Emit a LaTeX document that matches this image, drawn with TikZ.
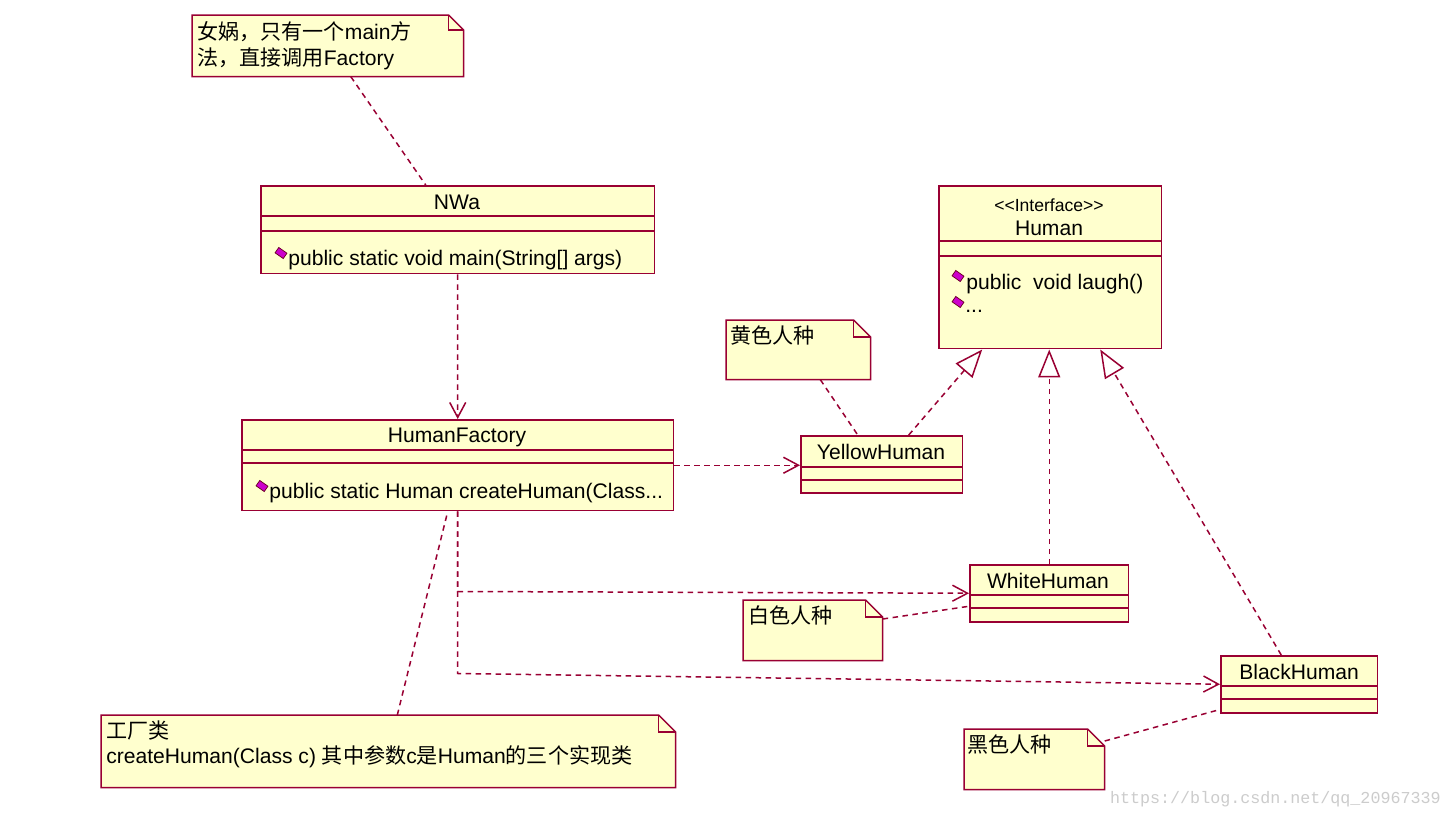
\documentclass[tikz,border=0pt]{standalone}
\usepackage{fontspec}
\setmainfont{Liberation Sans}
\newfontfamily\cjkfont{Noto Sans CJK SC}
\newfontfamily\markfont{Liberation Mono}
\usepackage{xcolor}
\usetikzlibrary{calc}
\usetikzlibrary{arrows.meta}

\definecolor{umlline}{RGB}{153,0,51}
\definecolor{umlfill}{RGB}{255,255,206}
\definecolor{umlicon}{RGB}{204,0,204}

\tikzset{
  classbox/.style={draw=umlline, fill=umlfill, line width=0.03cm, inner sep=0pt, anchor=north west},
  notebox/.style={inner sep=0pt, anchor=north west},
  noteline/.style={draw=umlline, fill=umlfill, line width=0.03cm},
  compline/.style={draw=umlline, line width=0.03cm},
  umltext/.style={inner sep=0pt, font=\fontsize{12pt}{14pt}\selectfont},
  methodicon/.style={draw=umlline!70!black, fill=umlicon, line width=0.015cm, inner sep=0pt,
    minimum width=0.2cm, minimum height=0.13cm, rotate=-35},
  linkline/.style={draw=umlline, line width=0.03cm, dash pattern=on 1.1mm off 0.9mm},
  dependency/.style={linkline, -{Straight Barb[length=3mm,width=3.2mm,line width=0.03cm]}},
  realization/.style={linkline, -{Triangle[open,length=5.6mm,width=4.4mm,line width=0.03cm,fill=white]}}
}

\begin{document}
\begin{tikzpicture}[x=0.02cm, y=-0.02cm]
  \useasboundingbox [fill=white] (0,0) rectangle (1452,819);

  % Note for NWa
  \node (nnwa) [notebox, minimum width=5.42cm, minimum height=1.22cm] at (192,15) {};
  \draw [noteline] (nnwa.north west) -- ($(nnwa.north east)+(-15,0)$) -- ($(nnwa.north east)+(0,15)$)
    -- (nnwa.south east) -- (nnwa.south west) -- cycle;
  \draw [compline] ($(nnwa.north east)+(-15,0)$) -- ($(nnwa.north east)+(-15,15)$) -- ($(nnwa.north east)+(0,15)$);
  \node (nnwatext) [umltext, anchor=north west, align=left, font=\fontsize{12pt}{14.8pt}\selectfont] at (197,21)
    {{\cjkfont 女娲，只有一个}main{\cjkfont 方}\\{\cjkfont 法，直接调用}Factory};

  % Class NWa
  \node (nwa) [classbox, minimum width=7.88cm, minimum height=1.76cm] at (260,185) {};
  \draw [compline] ($(nwa.north west)+(0,31)$) -- ($(nwa.north east)+(0,31)$);
  \draw [compline] ($(nwa.north west)+(0,46)$) -- ($(nwa.north east)+(0,46)$);
  \node (nwaname) [umltext] at (457,202) {NWa};
  \node (nwaicon) [methodicon] at (281,253) {};
  \node (nwamain) [umltext, anchor=west] at (288,260) {public static void main(String[] args)};

  % Interface Human
  \node (human) [classbox, minimum width=4.46cm, minimum height=3.26cm] at (938,185) {};
  \draw [compline] ($(human.north west)+(0,56)$) -- ($(human.north east)+(0,56)$);
  \draw [compline] ($(human.north west)+(0,71)$) -- ($(human.north east)+(0,71)$);
  \node (humanstereo) [umltext, font=\fontsize{10pt}{12pt}\selectfont] at (1049,205) {{<}{<}Interface{>}{>}};
  \node (humanname) [umltext] at (1049,228) {Human};
  \node (laughicon) [methodicon] at (958,276) {};
  \node (laugh) [umltext, anchor=west] at (966,284) {public\ \ void laugh()};
  \node (moreicon) [methodicon] at (958,302) {};
  \node (more) [umltext, anchor=west] at (965,311) {...};

  % Class HumanFactory
  \node (factory) [classbox, minimum width=8.64cm, minimum height=1.82cm] at (241,419) {};
  \draw [compline] ($(factory.north west)+(0,31)$) -- ($(factory.north east)+(0,31)$);
  \draw [compline] ($(factory.north west)+(0,44)$) -- ($(factory.north east)+(0,44)$);
  \node (factoryname) [umltext] at (457,437) {HumanFactory};
  \node (createicon) [methodicon] at (262,486) {};
  \node (create) [umltext, anchor=west] at (269,493) {public static Human createHuman(Class...};

  % Class YellowHuman
  \node (yellow) [classbox, minimum width=3.24cm, minimum height=1.14cm] at (800,435) {};
  \draw [compline] ($(yellow.north west)+(0,32)$) -- ($(yellow.north east)+(0,32)$);
  \draw [compline] ($(yellow.north west)+(0,45)$) -- ($(yellow.north east)+(0,45)$);
  \node (yellowname) [umltext] at (881,452) {YellowHuman};

  % Class WhiteHuman
  \node (white) [classbox, minimum width=3.18cm, minimum height=1.14cm] at (969,564) {};
  \draw [compline] ($(white.north west)+(0,31)$) -- ($(white.north east)+(0,31)$);
  \draw [compline] ($(white.north west)+(0,44)$) -- ($(white.north east)+(0,44)$);
  \node (whitename) [umltext] at (1048,581) {WhiteHuman};

  % Class BlackHuman
  \node (black) [classbox, minimum width=3.14cm, minimum height=1.14cm] at (1220,655) {};
  \draw [compline] ($(black.north west)+(0,31)$) -- ($(black.north east)+(0,31)$);
  \draw [compline] ($(black.north west)+(0,44)$) -- ($(black.north east)+(0,44)$);
  \node (blackname) [umltext] at (1299,672) {BlackHuman};

  % Note for YellowHuman
  \node (nyellow) [notebox, minimum width=2.88cm, minimum height=1.18cm] at (726,320) {};
  \draw [noteline] (nyellow.north west) -- ($(nyellow.north east)+(-17,0)$) -- ($(nyellow.north east)+(0,17)$)
    -- (nyellow.south east) -- (nyellow.south west) -- cycle;
  \draw [compline] ($(nyellow.north east)+(-17,0)$) -- ($(nyellow.north east)+(-17,17)$) -- ($(nyellow.north east)+(0,17)$);
  \node (nyellowtext) [umltext, anchor=north west] at (730,325) {\cjkfont 黄色人种};

  % Note for WhiteHuman
  \node (nwhite) [notebox, minimum width=2.78cm, minimum height=1.2cm] at (743,600) {};
  \draw [noteline] (nwhite.north west) -- ($(nwhite.north east)+(-17,0)$) -- ($(nwhite.north east)+(0,17)$)
    -- (nwhite.south east) -- (nwhite.south west) -- cycle;
  \draw [compline] ($(nwhite.north east)+(-17,0)$) -- ($(nwhite.north east)+(-17,17)$) -- ($(nwhite.north east)+(0,17)$);
  \node (nwhitetext) [umltext, anchor=north west] at (748,605) {\cjkfont 白色人种};

  % Note for BlackHuman
  \node (nblack) [notebox, minimum width=2.8cm, minimum height=1.2cm] at (964,729) {};
  \draw [noteline] (nblack.north west) -- ($(nblack.north east)+(-17,0)$) -- ($(nblack.north east)+(0,17)$)
    -- (nblack.south east) -- (nblack.south west) -- cycle;
  \draw [compline] ($(nblack.north east)+(-17,0)$) -- ($(nblack.north east)+(-17,17)$) -- ($(nblack.north east)+(0,17)$);
  \node (nblacktext) [umltext, anchor=north west] at (967,734) {\cjkfont 黑色人种};

  % Note for HumanFactory
  \node (nfactory) [notebox, minimum width=11.48cm, minimum height=1.44cm] at (101,715) {};
  \draw [noteline] (nfactory.north west) -- ($(nfactory.north east)+(-17,0)$) -- ($(nfactory.north east)+(0,17)$)
    -- (nfactory.south east) -- (nfactory.south west) -- cycle;
  \draw [compline] ($(nfactory.north east)+(-17,0)$) -- ($(nfactory.north east)+(-17,17)$) -- ($(nfactory.north east)+(0,17)$);
  \node (nfactorytext) [umltext, anchor=north west, align=left, font=\fontsize{12pt}{14.2pt}\selectfont] at (106,720)
    {{\cjkfont 工厂类}\\createHuman(Class c) {\cjkfont 其中参数}c{\cjkfont 是}Human{\cjkfont 的三个实现类}};

  % Note links
  \draw [linkline] ($(nnwa.south)+(23,0)$) -- ($(nwa.north)+(-32,0)$);
  \draw [linkline] ($(nyellow.south)+(22,0)$) -- ($(yellow.north)+(-24,0)$);
  \draw [linkline] ($(nwhite.north east)+(0,19)$) -- ($(white.west)+(0,13)$);
  \draw [linkline] ($(nblack.north east)+(0,12)$) -- ($(black.south west)+(0,-4)$);
  \draw [linkline] ($(nfactory.north)+(9,0)$) -- ($(factory.south)+(-10,0)$);

  % Dependencies
  \draw [dependency] (nwa.south) -- (factory.north);
  \draw [dependency] (factory.east) -- (factory.east -| yellow.west);
  \draw [dependency] (factory.south) -- ++(0,80) -- (white.west);
  \draw [dependency] (factory.south) -- ++(0,162) -- (black.west);

  % Realizations
  \draw [realization] ($(yellow.north)+(27,0)$) -- ($(human.south)+(-68,0)$);
  \draw [realization] (white.north) -- (white.north |- human.south);
  \draw [realization] ($(black.north)+(-18,0)$) -- ($(human.south)+(50,0)$);

  % Watermark
  \node (mark) [inner sep=0pt, anchor=east, text=black!20, font=\markfont\fontsize{9.5pt}{11pt}\selectfont] at (1441,799)
    {https://blog.csdn.net/qq\_20967339};
\end{tikzpicture}
\end{document}
